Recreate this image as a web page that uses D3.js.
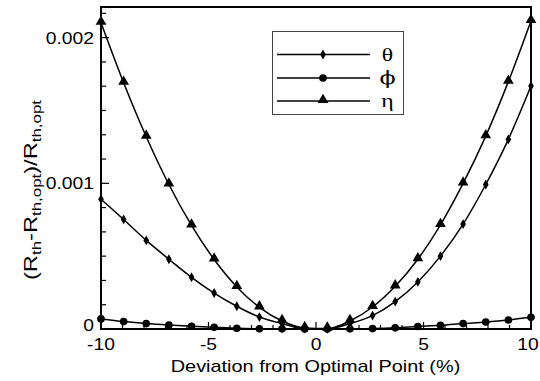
<!DOCTYPE html>
<html>
<head>
<meta charset="utf-8">
<script src="https://cdn.jsdelivr.net/npm/d3@7"></script>
<style>
  body { margin: 0; background: #fff; }
  text { font-family: "Liberation Sans", Arial, sans-serif; fill: #000; }
</style>
</head>
<body>
<div id="chart"></div>
<script>
// 20 equally spaced points from -10 to 10 (%)
const deviation = [-10, -8.947, -7.895, -6.842, -5.789, -4.737, -3.684, -2.632, -1.579, -0.526,
  0.526, 1.579, 2.632, 3.684, 4.737, 5.789, 6.842, 7.895, 8.947, 10];

// relative change in thermal resistance (units of 1e-3)
const thetaVals = [0.891, 0.752, 0.608, 0.479, 0.355, 0.247, 0.156, 0.082, 0.037, 0.003,
  0.002, 0.037, 0.092, 0.188, 0.323, 0.500, 0.720, 0.992, 1.302, 1.668];
const phiVals = [0.069, 0.051, 0.037, 0.027, 0.019, 0.012, 0.005, 0.002, 0.001, 0.000,
  0.000, 0.001, 0.003, 0.008, 0.017, 0.025, 0.037, 0.048, 0.062, 0.080];
const etaVals = [2.103, 1.691, 1.320, 0.992, 0.711, 0.477, 0.289, 0.149, 0.055, 0.007,
  0.003, 0.055, 0.151, 0.293, 0.479, 0.715, 0.999, 1.324, 1.698, 2.115];

const seriesNames = ["θ", "ϕ", "η"];
const xTicks = [-10, -5, 0, 5, 10];
const yTicks = [0, 0.001, 0.002];

const width = 540;
const height = 381;
const margin = { top: 7, right: 9, bottom: 52, left: 101 };
const stretch = 1.17; // text in the original is a bit wide

const series = [
  { name: seriesNames[0], marker: "diamond", values: thetaVals },
  { name: seriesNames[1], marker: "circle", values: phiVals },
  { name: seriesNames[2], marker: "triangle", values: etaVals },
];

const svg = d3.select("#chart").append("svg")
  .attr("width", width)
  .attr("height", height);

const scaleX = d3.scaleLinear()
  .domain([-10, 10])
  .range([margin.left, width - margin.right]);
const scaleY = d3.scaleLinear()
  .domain([0, 0.0022])
  .range([height - margin.bottom, margin.top + 1.5]);

const x0 = scaleX.range()[0], x1 = scaleX.range()[1];
const yBot = scaleY(0), yTop = margin.top;

// ticks (pointing inward)
const minorX = d3.range(-10, 10.01, 1).filter((d) => d % 5 !== 0);
const minorY = d3.range(0, 0.0022, 0.001 / 6).filter((d) => Math.abs(d * 1000 - Math.round(d * 1000)) > 1e-6);

const ticks = svg.append("g").attr("stroke", "#000").attr("stroke-width", 1.2);
ticks.selectAll(".xmaj").data(xTicks).join("line")
  .attr("x1", (d) => scaleX(d)).attr("x2", (d) => scaleX(d))
  .attr("y1", yBot).attr("y2", yBot - 7);
ticks.selectAll(".xmin").data(minorX).join("line")
  .attr("x1", (d) => scaleX(d)).attr("x2", (d) => scaleX(d))
  .attr("y1", yBot).attr("y2", yBot - 4);
ticks.selectAll(".ymaj").data(yTicks).join("line")
  .attr("x1", x0).attr("x2", x0 + 8)
  .attr("y1", (d) => scaleY(d)).attr("y2", (d) => scaleY(d));
ticks.selectAll(".ymin").data(minorY).join("line")
  .attr("x1", x0).attr("x2", x0 + 5)
  .attr("y1", (d) => scaleY(d)).attr("y2", (d) => scaleY(d));

// frame
svg.append("rect")
  .attr("x", x0).attr("y", yTop)
  .attr("width", x1 - x0).attr("height", yBot - yTop)
  .attr("fill", "none").attr("stroke", "#000").attr("stroke-width", 2);

// tick labels (last one kept inside the page edge)
svg.append("g").selectAll("text").data(xTicks).join("text")
  .attr("transform", (d) => `translate(${Math.min(scaleX(d), width - 12)},${yBot + 21}) scale(${stretch},1)`)
  .attr("text-anchor", "middle").attr("font-size", 16.5)
  .text((d) => d);
svg.append("g").selectAll("text").data(yTicks).join("text")
  .attr("transform", (d) => `translate(${x0 - 7},${scaleY(d) + (d === 0 ? 2 : 6)}) scale(${stretch},1)`)
  .attr("text-anchor", "end").attr("font-size", 16.5)
  .text((d) => (d === 0 ? "0" : d3.format(".3f")(d)));

// axis titles
svg.append("text")
  .attr("transform", `translate(${(x0 + x1) / 2 - 0.5},372) scale(${stretch},1)`)
  .attr("text-anchor", "middle").attr("font-size", 17)
  .text("Deviation from Optimal Point (%)");

const yTitle = svg.append("text")
  .attr("transform", "translate(37, 190) rotate(-90)")
  .attr("text-anchor", "middle").attr("font-size", 17.5)
  .attr("textLength", 180).attr("lengthAdjust", "spacingAndGlyphs");
yTitle.append("tspan").text("(R");
yTitle.append("tspan").attr("font-size", 12.5).attr("dy", 4).text("th");
yTitle.append("tspan").attr("dy", -4).text("-R");
yTitle.append("tspan").attr("font-size", 12.5).attr("dy", 4).text("th,opt");
yTitle.append("tspan").attr("dy", -4).text(")/R");
yTitle.append("tspan").attr("font-size", 12.5).attr("dy", 4).text("th,opt");

// markers
function markerPath(type) {
  if (type === "diamond") return d3.symbol(d3.symbolDiamond, 28)();
  if (type === "circle") return d3.symbol(d3.symbolCircle, 46)();
  return d3.symbol(d3.symbolTriangle, 50)();
}

const line = d3.line()
  .x((d) => scaleX(d[0]))
  .y((d) => scaleY(d[1] / 1000))
  .curve(d3.curveMonotoneX);

const plot = svg.append("g");
series.forEach((s) => {
  const pts = deviation.map((x, i) => [x, s.values[i]]);
  plot.append("path")
    .attr("d", line(pts))
    .attr("fill", "none").attr("stroke", "#000").attr("stroke-width", 1.5);
  plot.selectAll(null).data(pts).join("path")
    .attr("d", markerPath(s.marker))
    .attr("transform", (d) => `translate(${scaleX(d[0])},${scaleY(d[1] / 1000) - (s.marker === "triangle" ? 1 : 0)})`)
    .attr("fill", "#000");
});

// legend
const legend = svg.append("g");
legend.append("rect")
  .attr("x", 272.5).attr("y", 31.5).attr("width", 131).attr("height", 83)
  .attr("fill", "#fff").attr("stroke", "#444").attr("stroke-width", 1);
const rowY = [54.5, 78, 101];
series.forEach((s, i) => {
  legend.append("line")
    .attr("x1", 277).attr("x2", 370)
    .attr("y1", rowY[i]).attr("y2", rowY[i])
    .attr("stroke", "#000").attr("stroke-width", 1.5);
  legend.append("path")
    .attr("d", markerPath(s.marker))
    .attr("transform", `translate(323,${rowY[i] - (s.marker === "triangle" ? 1 : 0)})`)
    .attr("fill", "#000");
  legend.append("text")
    .attr("transform", `translate(387.5,${rowY[i] + 6}) scale(1.25,1)`)
    .attr("text-anchor", "middle")
    .attr("font-size", 19)
    .style("font-family", s.name === "ϕ" ? "'DejaVu Serif', serif" : "'Liberation Serif', 'DejaVu Serif', serif")
    .style("fill", "#000")
    .text(s.name);
});
</script>
</body>
</html>
